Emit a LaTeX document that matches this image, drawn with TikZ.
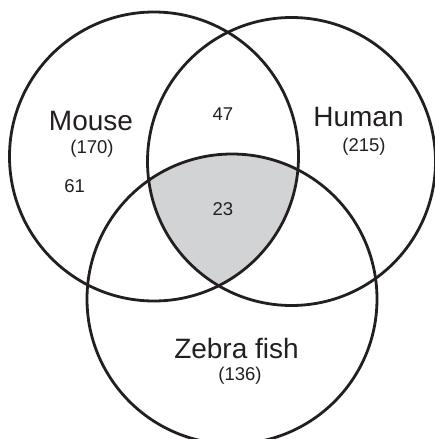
\documentclass[tikz,border=0pt]{standalone}
\usepackage{fontspec}
\setmainfont{Liberation Sans}
\usepackage{tikz}
\definecolor{coregray}{RGB}{209,211,213}
\definecolor{inkc}{RGB}{35,31,32}
\tikzset{
  ring/.style={draw=inkc, line width=2.8pt},
  setname/.style={inner sep=0pt, anchor=base, text=inkc, font=\fontsize{28}{30}\selectfont},
  setsize/.style={inner sep=0pt, anchor=base, text=inkc, font=\fontsize{18.5}{20}\selectfont},
  count/.style={inner sep=0pt, anchor=base, text=inkc, font=\fontsize{18.5}{20}\selectfont},
}
\begin{document}
\begin{tikzpicture}[x=1pt,y=-1pt]
  \useasboundingbox (0,0) rectangle (435,439);
  \coordinate (mouseC) at (154,156.5);
  \coordinate (humanC) at (291.5,161.5);
  \coordinate (fishC) at (232,299);
  % shaded core shared by all three
  \begin{scope}
    \clip (mouseC) circle (144.5);
    \clip (humanC) circle (144);
    \fill[coregray] (fishC) circle (145);
  \end{scope}
  \draw[ring] (mouseC) circle (144.5);
  \draw[ring] (humanC) circle (144);
  \draw[ring] (fishC) circle (145);
  \node[setname] (mouse) at (91,130) {Mouse};
  \node[setsize] (mouseN) at (92,153) {(170)};
  \node[setname] (human) at (358.5,126) {Human};
  \node[setsize] (humanN) at (364,151.5) {(215)};
  \node[setname] (fish) at (236.5,358.5) {Zebra fish};
  \node[setsize] (fishN) at (240,380) {(136)};
  \node[count] (onlyMouse) at (74.7,192.7) {61};
  \node[count] (mouseHuman) at (223,120.7) {47};
  \node[count] (allThree) at (223,215.7) {23};
\end{tikzpicture}
\end{document}
